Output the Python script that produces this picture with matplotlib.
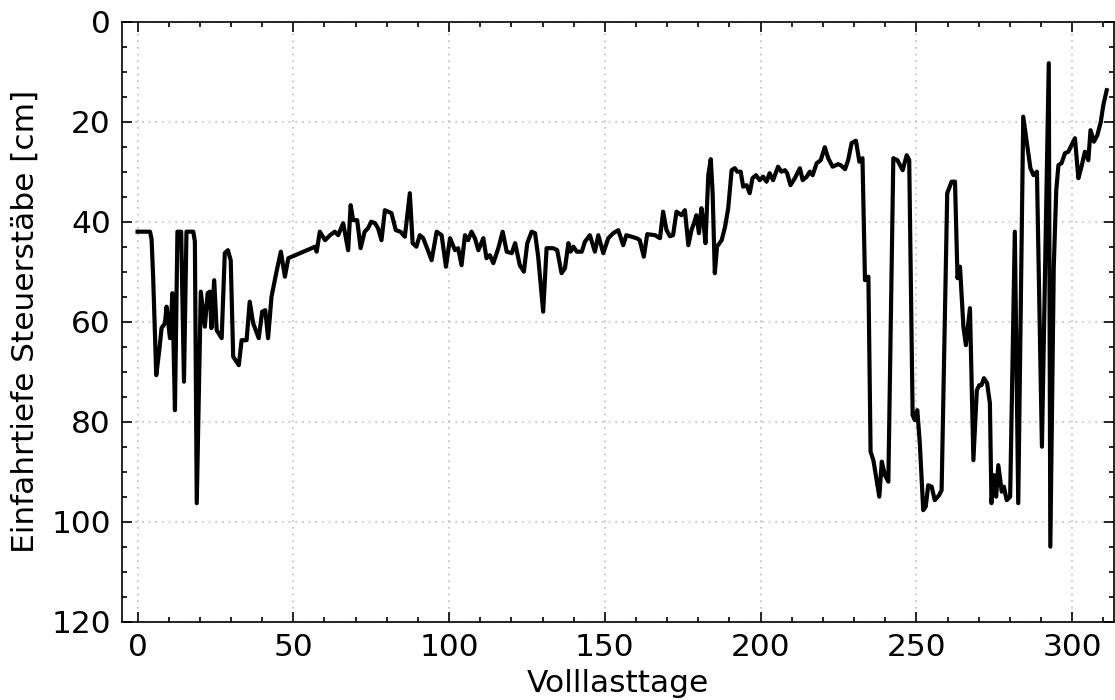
import matplotlib
matplotlib.use("Agg")
import matplotlib.pyplot as plt
from matplotlib.ticker import MultipleLocator

# Volllasttage (x) und Einfahrtiefe der Steuerstäbe in cm (y)
days = [
    0, 4, 4.5, 5, 6, 7, 7.7, 8.8, 9.3, 10.4, 11.2, 12, 12.8, 14, 14.9, 15.7,
    17.9, 18.4, 19, 20.3, 21.6, 22.5, 23.2, 23.7, 24.6, 25.4, 27, 28, 29, 29.9,
    30.7, 32.5, 33.4, 35, 36, 37.1, 38.9, 40, 41, 41.9, 43, 44.6, 46, 47.3, 48.4,
    57, 57.5, 58.5, 60.2, 61.8, 63.3, 64.4, 66, 67.6, 68.4, 69.2, 70.5, 71.6,
    72.9, 74, 75, 76.2, 77.2, 78.3, 79.4, 81.5, 82.9, 84.4, 85.8, 87.4, 88.3,
    89.5, 90.6, 91.7, 94.4, 96, 97.6, 99, 100.3,
    101.9, 102.9, 104, 105.1, 106.1, 107.2, 108.3, 109.4, 111, 112, 113.1, 114.2,
    115.8, 117.2, 118.5, 120.1, 121.2, 122.7, 124, 125.1, 126.5, 127.6, 128.6,
    130.2, 131.3, 133.4, 134.7, 136.1, 137.2, 138.3, 139, 139.9, 141, 142.6,
    143.6, 145.2, 146.8, 147.9, 149.5, 151.1, 152.7, 154.3, 155.9, 156.9, 158.6,
    160.2, 161.2, 162.5, 163.6, 166.1, 167.7, 168.7, 169.8, 170.9, 171.9, 173,
    174.6, 175.7, 176.8, 177.8, 178.6, 179.4, 180.2, 181, 181.6, 182.3, 183.2,
    184, 184.6, 185.3, 186, 187.5, 188.6, 189.6, 190.7, 191.7, 192.5, 193.6,
    194.4, 195.5, 196.5, 197.4, 198.5, 199.7, 200.8, 201.9, 202.9, 204, 205.6,
    206.7, 207.8, 208.5, 209.6, 211, 212.6, 213.5, 214.8, 215.8, 216.7, 218,
    219.3, 220.6, 221.7, 223.1, 224.9, 225.7, 227.1, 228.1, 229.2, 230.6, 231.7,
    232.7, 233.5, 234.6, 235.3, 236.2, 238.1, 238.9, 239.9, 241, 242.6, 243.9,
    245.6, 246.9, 247.7, 248.8, 249.5, 250.3, 251.1, 252.2, 253, 253.8, 254.9,
    255.9, 257.3, 258.1, 259.9, 261.3, 262.4, 263.2, 264, 265.1, 265.9, 267.2,
    268.3, 269.4, 270.2, 270.9, 271.7, 272.7, 273.6, 274.1, 274.9, 275.6, 276.3,
    277.4, 278.1, 279, 280.1, 281.6, 282.7, 284.3, 285.4, 286.6, 287.6, 288.7,
    290.3, 292.5, 293, 294.1, 294.9, 295.6, 296.6, 297.7, 298.8, 299.8, 300.9,
    302, 303, 304.1, 305.2, 305.9, 307, 308.1, 309.2, 310, 311.1,
]
depth = [
    42, 42, 43.5, 51, 70.7, 65.6, 61.3, 60.3, 57, 63.3, 54.3, 77.7, 42, 42, 72, 42,
    42, 44, 96.3, 54, 61, 54.3, 54, 61.3, 51.7, 61.7, 63.3, 46.3, 45.7, 47.7,
    67, 68.7, 63.7, 63.7, 56, 60.3, 63.3, 58, 57.7, 63.3, 55, 50, 46, 51, 47.3,
    45, 46, 42, 43.7, 42.7, 42, 42.7, 40.3, 45.7, 36.7, 39.7, 39.7, 45.3,
    42, 41.3, 40, 40.3, 41.3, 43.7, 37.7, 38.3, 41.7, 42, 43, 34.3, 44.3,
    45, 42.7, 43.3, 47.7, 42, 42.7, 49, 43.3,
    45.7, 45.3, 48.7, 42.7, 43.7, 42, 43.3, 45.7, 43.3, 47.3, 46.7, 48.3,
    45.3, 42, 46, 46.3, 44.3, 48.7, 50, 44.3, 42, 42.3, 47,
    58, 45.3, 45.3, 45.7, 50.3, 49.3, 44.3, 46, 45, 46, 46,
    44, 42.7, 46, 42.7, 46.3, 43.3, 42.3, 41.7, 44.7, 42.7, 43,
    43.3, 43.7, 47, 42.5, 42.7, 43.3, 38, 41.7, 42.9, 42.7, 38,
    38.7, 37.7, 44.7, 41.7, 40.3, 38.7, 42.3, 37.3, 39.7, 44.3, 30.7,
    27.5, 34.3, 50.3, 45, 43.7, 41, 37.3, 29.7, 29.3, 30, 30,
    33, 32.7, 34.3, 31.3, 30.7, 31.7, 31, 32, 30.3, 31.7, 29,
    30, 29.7, 30.3, 32.7, 31.3, 29.3, 31.7, 31, 30, 30.7, 28.3,
    27.7, 25.1, 27.3, 29, 28.5, 28.7, 29.5, 27.7, 24.3, 23.8, 28,
    27.3, 51.7, 51, 86, 87.7, 95, 88, 90.7, 92, 27.3, 27.7,
    29.7, 26.7, 27.7, 78.7, 79.7, 77.7, 84.3, 97.7, 97, 92.7, 93,
    95.7, 94.7, 93.7, 34.3, 32, 32, 51.3, 49, 61, 64.7, 57.3,
    87.7, 73.7, 72.7, 72.7, 71.3, 72.3, 76.3, 96.3, 90.7, 95, 88.7,
    94, 93, 95.7, 95, 42, 96.3, 19, 24, 29.3, 30.7, 30,
    85, 8.3, 105, 49, 33.7, 28.7, 28.3, 26.3, 26, 24.7, 23.3,
    31.3, 29, 26, 27.7, 21.7, 24, 22.7, 20, 16.7, 13.7,
]

x_ticks = [0, 50, 100, 150, 200, 250, 300]
y_ticks = [0, 20, 40, 60, 80, 100, 120]

plt.rcParams['font.family'] = ['DejaVu Sans']
plt.rcParams['font.size'] = 22.5

fig = plt.figure(figsize=(11.15, 7.0), dpi=100)
ax = fig.add_axes([0.1094, 0.1119, 0.8896, 0.8571])

ax.plot(days, depth, color='black', lw=3.0, solid_joinstyle='round')

ax.set_xlim(-5, 313.4)
ax.set_ylim(120, 0)
ax.set_xticks(x_ticks)
ax.set_yticks(y_ticks)
ax.xaxis.set_minor_locator(MultipleLocator(10))
ax.yaxis.set_minor_locator(MultipleLocator(5))

ax.tick_params(which='both', direction='in', top=True, right=True, width=1.2)
ax.tick_params(which='major', length=7)
ax.tick_params(which='minor', length=3.5)
ax.tick_params(axis='x', pad=8)
ax.tick_params(axis='y', pad=8)
for s in ax.spines.values():
    s.set_linewidth(1.2)

ax.grid(True, which='major', linestyle=(0, (1, 3)), color='#bdbdbd', lw=1.2)
ax.set_axisbelow(True)

ax.set_xlabel('Volllasttage', labelpad=5)
ax.set_ylabel('Einfahrtiefe Steuerstäbe [cm]', labelpad=8)

fig.savefig('out.png', dpi=100)
